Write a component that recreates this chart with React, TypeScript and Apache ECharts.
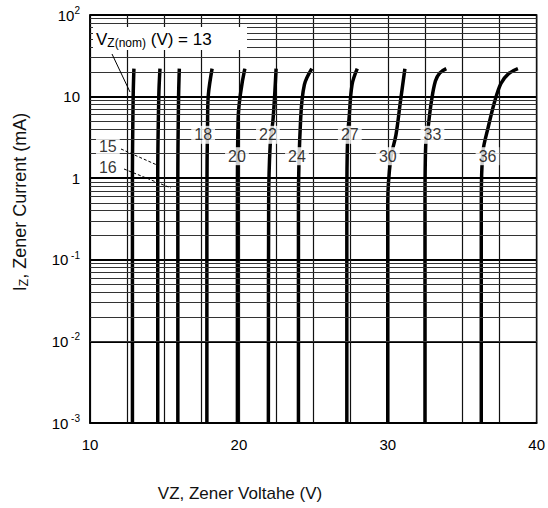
import React, { useEffect, useRef } from 'react';
import * as echarts from 'echarts';

// Nominal Zener voltages of the plotted devices
const zenerNominal = ['13', '15', '16', '18', '20', '22', '24', '27', '30', '33', '36'];

// [VZ (V), IZ (mA)]
const vz13 = [[12.85, 0.001], [12.85, 1], [12.9, 10], [12.95, 22]];
const vz15 = [[14.55, 0.001], [14.55, 1], [14.62, 10], [14.7, 22]];
const vz16 = [[15.9, 0.001], [15.9, 1], [15.95, 10], [16.0, 22]];
const vz18 = [[17.85, 0.001], [17.85, 0.5], [17.9, 5.4], [17.95, 10.6], [18.2, 22]];
const vz20 = [[19.9, 0.001], [19.9, 0.5], [19.95, 5.4], [20.1, 10.6], [20.4, 22]];
const vz22 = [[21.98, 0.001], [22.0, 0.5], [22.1, 2.5], [22.3, 5.4], [22.5, 22]];
const vz24 = [[24.0, 0.001], [24.0, 0.5], [24.15, 5.4], [24.4, 14], [24.9, 22]];
const vz27 = [[27.25, 0.001], [27.25, 0.5], [27.3, 3.1], [27.4, 5.4], [27.6, 14], [27.95, 22]];
const vz30 = [[30.0, 0.001], [30.0, 0.5], [30.2, 1.75], [30.55, 3.4], [30.85, 8.7], [31.15, 22]];
const vz33 = [[32.5, 0.001], [32.5, 0.5], [32.55, 2.6], [32.7, 4.1], [32.93, 8.7], [33.2, 15.5], [33.5, 19.5], [33.93, 22]];
const vz36 = [[36.28, 0.001], [36.28, 0.5], [36.39, 2.1], [36.73, 4.1], [37.18, 8.7], [37.6, 14.5], [38.1, 19], [38.74, 22]];
const curves = [vz13, vz15, vz16, vz18, vz20, vz22, vz24, vz27, vz30, vz33, vz36];

// In-plot curve labels (text, VZ, IZ)
const curveLabelText = ['18', '22', '27', '33', '20', '24', '30', '36', '15', '16'];
const curveLabelV = [17.6, 21.95, 27.45, 33.0, 19.87, 23.9, 30.0, 36.7, 11.2, 11.2];
const curveLabelI = [3.4, 3.4, 3.4, 3.4, 1.86, 1.86, 1.86, 1.86, 2.47, 1.36];

// Axis ticks
const xTickLabels = [10, 20, 30, 40];
const yDecades = [0.001, 0.01, 0.1, 1, 10];
const yMinorMultipliers = [2, 3, 4, 5, 6, 7, 8, 9];

const FONT = 'Liberation Sans, Arial, Helvetica, sans-serif';

export default function App() {
  const ref = useRef<HTMLDivElement>(null);

  useEffect(() => {
    const chart = echarts.init(ref.current!, null, { renderer: 'svg' });

    const curveSeries = curves.map((d, i) => ({
      type: 'line',
      name: 'VZ ' + zenerNominal[i],
      data: d,
      smooth: 0.35,
      symbol: 'none',
      showSymbol: false,
      silent: true,
      z: 3,
      lineStyle: { color: '#000', width: 3.5 },
    }));

    const minorLines: any[] = [];
    yDecades.forEach((d) => yMinorMultipliers.forEach((k) => minorLines.push({ yAxis: k * d })));

    const labelData = curveLabelText.map((t, i) => [curveLabelV[i], curveLabelI[i], t]);

    const supFmt = (v: number) => {
      const e = Math.round(Math.log10(v));
      if (e === 0) return '{b|1}';
      if (e === 1) return '{b|10}';
      if (e > 1) return '{b|10}{s|' + e + '}';
      return '{b|10}{s| ' + e + '}';
    };

    chart.setOption({
      animation: false,
      backgroundColor: '#fff',
      grid: {
        left: 90,
        right: 11,
        top: 15,
        bottom: 85,
        show: true,
        borderColor: '#000',
        borderWidth: 1.5,
        backgroundColor: 'transparent',
      },
      xAxis: {
        type: 'value',
        min: 10,
        max: 40,
        interval: 2.5,
        axisLine: { show: true, lineStyle: { color: '#000', width: 1.5 } },
        axisTick: { show: false },
        splitLine: { show: true, lineStyle: { color: '#111', width: 1.2 } },
        axisLabel: {
          margin: 14,
          color: '#000',
          fontFamily: FONT,
          fontSize: 15,
          showMinLabel: true,
          showMaxLabel: true,
          formatter: (v: number) => (xTickLabels.indexOf(v) >= 0 ? String(v) : ''),
        },
      },
      yAxis: {
        type: 'log',
        logBase: 10,
        min: 0.001,
        max: 100,
        axisLine: { show: true, lineStyle: { color: '#000', width: 1.5 } },
        axisTick: { show: false },
        splitLine: { show: true, lineStyle: { color: '#000', width: 2 } },
        axisLabel: {
          margin: 10,
          formatter: supFmt,
          rich: {
            b: { fontFamily: FONT, fontSize: 15, color: '#000' },
            s: { fontFamily: FONT, fontSize: 10, color: '#000', padding: [0, 0, 9, 0] },
          },
        },
      },
      graphic: [
        {
          type: 'rect',
          shape: { x: 93, y: 27, width: 154, height: 23 },
          style: { fill: '#fff' },
          z: 10,
        },
        {
          type: 'text',
          x: 96,
          y: 39,
          z: 11,
          style: {
            text: '{a|V}{s|Z(nom)}{a| (V) = 13}',
            verticalAlign: 'middle',
            rich: {
              a: { fontFamily: FONT, fontSize: 17, fill: '#000' },
              s: { fontFamily: FONT, fontSize: 12, fill: '#000', padding: [8, 0, 0, 0] },
            },
          },
        },
        {
          type: 'line',
          z: 11,
          shape: { x1: 112, y1: 54, x2: 130, y2: 92 },
          style: { stroke: '#000', lineWidth: 1 },
        },
        {
          type: 'line',
          z: 11,
          shape: { x1: 121, y1: 149, x2: 157, y2: 165 },
          style: { stroke: '#000', lineWidth: 1, lineDash: [3, 2] },
        },
        {
          type: 'line',
          z: 11,
          shape: { x1: 124, y1: 169, x2: 171, y2: 188 },
          style: { stroke: '#000', lineWidth: 1, lineDash: [3, 2] },
        },
        {
          type: 'text',
          x: 20,
          y: 202,
          rotation: Math.PI / 2,
          style: {
            text: '{a|I}{s|Z}{a|, Zener Current (mA)}',
            align: 'center',
            verticalAlign: 'middle',
            rich: {
              a: { fontFamily: FONT, fontSize: 18, fill: '#111' },
              s: { fontFamily: FONT, fontSize: 12, fill: '#111', padding: [8, 0, 0, 0] },
            },
          },
        },
        {
          type: 'text',
          x: 240,
          y: 493,
          style: {
            text: 'VZ, Zener Voltahe (V)',
            align: 'center',
            verticalAlign: 'middle',
            fontFamily: FONT,
            fontSize: 17,
            fill: '#111',
          },
        },
      ],
      series: [
        {
          type: 'line',
          name: 'minor grid',
          data: [[10, 0.001]],
          symbol: 'none',
          silent: true,
          z: 1,
          lineStyle: { width: 0 },
          markLine: {
            silent: true,
            symbol: ['none', 'none'],
            label: { show: false },
            lineStyle: { color: '#333', width: 1, type: 'solid' },
            data: minorLines,
          },
        },
        ...curveSeries,
        {
          type: 'scatter',
          name: 'labels',
          data: labelData,
          symbolSize: 0,
          silent: true,
          z: 6,
          label: {
            show: true,
            position: 'inside',
            formatter: (p: any) => p.value[2],
            backgroundColor: '#fff',
            padding: [1, 3],
            fontFamily: FONT,
            fontSize: 16,
            color: '#000',
          },
        },
      ],
    });

    return () => chart.dispose();
  }, []);

  return <div ref={ref} style={{ position: 'fixed', left: 0, top: 0, width: 548, height: 508 }} />;
}
